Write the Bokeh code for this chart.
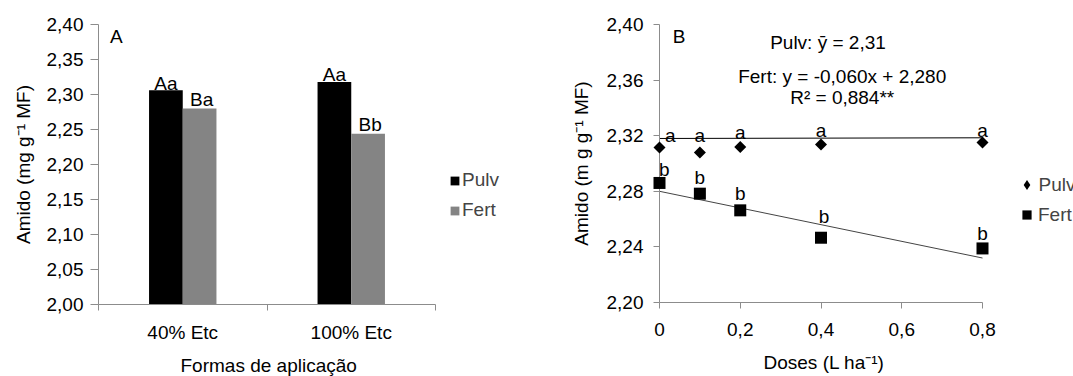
import numpy as np
from bokeh.plotting import figure
from bokeh.models import (ColumnDataSource, Range1d, FixedTicker, CustomJSTickFormatter,
                          Legend, LegendItem, Label, Title)
from bokeh.layouts import row
from bokeh.embed import file_html
from bokeh.resources import INLINE
from bokeh.core.properties import value

# ---------------- data: panel A ----------------
categories = ["40% Etc", "100% Etc"]
pulv_a = [2.306, 2.318]
fert_a = [2.280, 2.244]
pulv_a_letters = ["Aa", "Aa"]
fert_a_letters = ["Ba", "Bb"]
a_yticks = [2.00, 2.05, 2.10, 2.15, 2.20, 2.25, 2.30, 2.35, 2.40]

# ---------------- data: panel B ----------------
doses = [0.0, 0.1, 0.2, 0.4, 0.8]
pulv_b = [2.3115, 2.3079, 2.3119, 2.3137, 2.3151]
fert_b = [2.2860, 2.2783, 2.2663, 2.2466, 2.2389]
pulv_b_letters = ["a", "a", "a", "a", "a"]
fert_b_letters = ["b", "b", "b", "b", "b"]
pulv_line_y = [2.3180, 2.3185]          # line as drawn in the figure
fert_slope, fert_intercept = -0.060, 2.280
b_xticks = [0.0, 0.2, 0.4, 0.6, 0.8]
b_yticks = [2.20, 2.24, 2.28, 2.32, 2.36, 2.40]

# ---------------- style ----------------
FONT = "Liberation Sans"
FS = "19px"
AXC = "#8c8c8c"
GRAY = "#848484"
TOTAL_H = 384  # both panels the same height (window shows the top 376 px)


def style_axes(p):
    p.grid.visible = False
    p.outline_line_color = None
    p.background_fill_color = "white"
    p.border_fill_color = "white"
    for ax in (p.xaxis[0], p.yaxis[0]):
        ax.axis_line_color = AXC
        ax.major_tick_line_color = AXC
        ax.minor_tick_line_color = None
        ax.major_tick_in = 0
        ax.major_tick_out = 6
        ax.major_label_text_font = FONT
        ax.major_label_text_font_size = FS
        ax.major_label_text_color = "black"
        ax.axis_label_text_font = FONT
        ax.axis_label_text_font_size = FS
        ax.axis_label_text_font_style = "normal"
        ax.axis_label_text_color = "black"


def axis_title(text, offset, standoff):
    return Title(text=text, align="left", offset=offset, standoff=standoff,
                 text_font=FONT, text_font_size=FS, text_font_style="normal",
                 text_color="black")


def note(x, y, text, align="left", dy=11):
    return Label(x=x, y=y, text=text, text_font=FONT, text_font_size=FS,
                 text_align=align, text_baseline="alphabetic", y_offset=dy,
                 text_color="black")


# ================= Panel A =================
px_cat = 168.5
fwA, fhA, topA = 432, 280, 24
pA = figure(frame_width=fwA, frame_height=fhA, title=None,
            min_border_left=98, min_border_right=10, min_border_top=topA,
            min_border_bottom=TOTAL_H - topA - fhA,
            x_range=Range1d(0, fwA / px_cat), y_range=Range1d(2.0, 2.4),
            output_backend="svg", toolbar_location=None)
style_axes(pA)

ncat = len(categories)
centers = [i + 0.5 for i in range(ncat)]
srcA = ColumnDataSource(dict(
    xp=[c - 0.1 for c in centers], xf=[c + 0.1 for c in centers],
    pulv=pulv_a, fert=fert_a, lp=pulv_a_letters, lf=fert_a_letters))

rA1 = pA.vbar(x="xp", top="pulv", bottom=2.0, width=0.2, source=srcA,
              fill_color="black", line_color=None)
rA2 = pA.vbar(x="xf", top="fert", bottom=2.0, width=0.2, source=srcA,
              fill_color=GRAY, line_color=None)
pA.text(x="xp", y="pulv", text="lp", source=srcA, text_align="center",
        text_baseline="alphabetic", y_offset=-7, text_font=value(FONT),
        text_font_size=value(FS), text_color="black")
pA.text(x="xf", y="fert", text="lf", source=srcA, text_align="center",
        text_baseline="alphabetic", y_offset=-9, x_offset=2, text_font=value(FONT),
        text_font_size=value(FS), text_color="black")

xa = pA.xaxis[0]
xa.ticker = FixedTicker(ticks=centers, minor_ticks=list(range(ncat + 1)))
xa.formatter = CustomJSTickFormatter(args=dict(cats=categories),
                                     code="return cats[Math.floor(tick)];")
xa.bounds = (0, ncat)
xa.major_tick_out = 0
xa.minor_tick_line_color = AXC
xa.minor_tick_out = 6
xa.minor_tick_in = 0
xa.major_label_standoff = 11

ya = pA.yaxis[0]
ya.ticker = FixedTicker(ticks=a_yticks)
ya.formatter = CustomJSTickFormatter(code="return tick.toFixed(2).replace('.', ',');")
ya.major_tick_out = 8
ya.major_label_standoff = 7
ya.axis_label = "Amido (mg g\u207b\u00b9 MF)"
ya.axis_label_standoff = 10

for txt, rend, vy in (("Pulv", rA1, 113), ("Fert", rA2, 83)):
    lg = Legend(items=[LegendItem(label=txt, renderers=[rend])], location=(351, vy),
                glyph_width=11, glyph_height=11, label_height=22, label_standoff=2,
                padding=0, margin=0, border_line_color=None, background_fill_alpha=0,
                label_text_font=FONT, label_text_font_size=FS, inactive_fill_alpha=0)
    pA.add_layout(lg)

pA.add_layout(note(0.068, 2.370, "A", dy=9))
pA.add_layout(axis_title("Formas de aplicação", 82, 14), "below")

# ================= Panel B =================
px_b = 403.75
fwB, fhB, topB = 414, 278, 20
pB = figure(frame_width=fwB, frame_height=fhB, title=None,
            min_border_left=119, min_border_right=0, min_border_top=topB,
            min_border_bottom=TOTAL_H - topB - fhB,
            x_range=Range1d(0, fwB / px_b), y_range=Range1d(2.2, 2.4),
            output_backend="svg", toolbar_location=None)
style_axes(pB)

xb = pB.xaxis[0]
xb.ticker = FixedTicker(ticks=b_xticks)
xb.formatter = CustomJSTickFormatter(
    code="return tick == 0 ? '0' : tick.toFixed(1).replace('.', ',');")
xb.bounds = (b_xticks[0], b_xticks[-1])
xb.major_label_standoff = 14

yb = pB.yaxis[0]
yb.ticker = FixedTicker(ticks=b_yticks)
yb.formatter = CustomJSTickFormatter(code="return tick.toFixed(2).replace('.', ',');")
yb.major_label_standoff = 10
yb.axis_label = "Amido (m g g\u207b\u00b9 MF)"
yb.axis_label_standoff = 12

xline = [doses[0], doses[-1]]
pB.line(x=xline, y=pulv_line_y, line_color="black", line_width=1)
pB.line(x=xline, y=[fert_intercept + fert_slope * v for v in xline],
        line_color="#444444", line_width=1)

srcB = ColumnDataSource(dict(
    x=doses, pulv=pulv_b, fert=fert_b, la=pulv_b_letters, lb=fert_b_letters,
    ax=[10.7, 0, 0, 0, 0], ay=[-12.2, -17.2, -14.2, -13.5, -12.5],
    bx=[4.7, 0, 0, 3, 0], by=[-13.4, -16.4, -16.4, -21.4, -15.4]))

rB1 = pB.scatter(x="x", y="pulv", source=srcB, marker="square", angle=np.pi / 4,
                 size=8.5, fill_color="black", line_color=None, level="overlay")
# legend key for Pulv (same data, not drawn in the plot): diamond shape
rB1_key = pB.scatter(x="x", y="pulv", source=srcB, marker="diamond", size=10,
                     fill_color="black", line_color=None, visible=False)
rB2 = pB.scatter(x="x", y="fert", source=srcB, marker="square", size=12,
                 fill_color="black", line_color=None, level="overlay")
pB.text(x="x", y="pulv", text="la", source=srcB, x_offset="ax", y_offset="ay",
        text_align="center", text_baseline="alphabetic", text_font=value(FONT),
        text_font_size=value(FS), text_color="black")
pB.text(x="x", y="fert", text="lb", source=srcB, x_offset="bx", y_offset="by",
        text_align="center", text_baseline="alphabetic", text_font=value(FONT),
        text_font_size=value(FS), text_color="black")

for txt, rend, gsz, lx, vy in (("Pulv", rB1_key, 25, 354.5, 105), ("Fert", rB2, 23, 356, 76)):
    lg = Legend(items=[LegendItem(label=txt, renderers=[rend])], location=(lx, vy),
                glyph_width=gsz, glyph_height=gsz, label_height=22, label_standoff=0,
                padding=0, margin=0, border_line_color=None, background_fill_alpha=0,
                label_text_font=FONT, label_text_font_size=FS, inactive_fill_alpha=0)
    pB.add_layout(lg)

pB.add_layout(note(0.033, 2.3832, "B"))
pB.add_layout(note(0.4173, 2.3789, "Pulv: \u0233 = 2,31", "center"))
pB.add_layout(note(0.4525, 2.3549, "Fert: y = -0,060x + 2,280", "center"))
pB.add_layout(note(0.4525, 2.3394, "R\u00b2 = 0,884**", "center"))
pB.add_layout(axis_title("Doses (L ha\u207b\u00b9)", 104, 23), "below")

layout = row(pA, pB)
open("out.html", "w").write(file_html(layout, INLINE))
